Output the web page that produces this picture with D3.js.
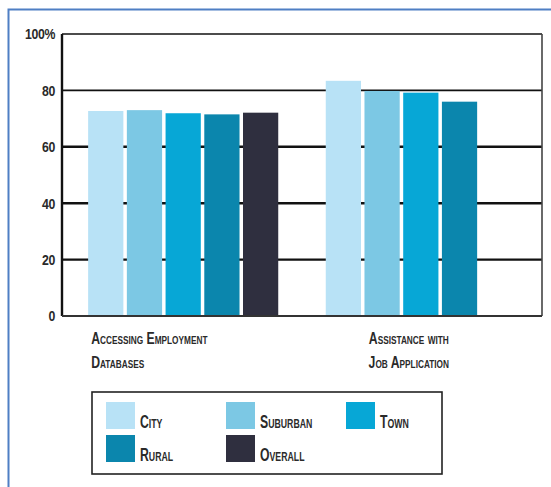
<!DOCTYPE html>
<html>
<head>
<meta charset="utf-8">
<script src="https://cdn.jsdelivr.net/npm/d3@7"></script>
<style>
  body { margin: 0; background: #fff; }
  text { font-family: "Liberation Sans", Arial, sans-serif; fill: #2a2a2a; }
</style>
</head>
<body>
<div id="chart-area"></div>
<script>
// data
var categories = ["Accessing Employment|Databases", "Assistance with|Job Application"];
var seriesNames = ["City", "Suburban", "Town", "Rural", "Overall"];
var seriesColors = ["#b8e2f6", "#7cc8e4", "#07a7d6", "#0b86ad", "#2f2f3f"];
var cityValues = [72.7, 83.4];
var suburbanValues = [73.0, 79.8];
var townValues = [71.9, 79.2];
var ruralValues = [71.5, 76.0];
var overallValues = [72.1, null];
var yTicks = [0, 20, 40, 60, 80, 100];

var seriesValues = [cityValues, suburbanValues, townValues, ruralValues, overallValues];

var margin = { top: 34, right: 9, bottom: 171, left: 62 };
var W = 551, H = 487;
var width = W - margin.left - margin.right;
var height = H - margin.top - margin.bottom;

// condensed label: text placed at (x,y) and squeezed horizontally
function narrowText(parent, x, y, str, size, k, anchor) {
    return parent.append("text")
        .attr("transform", "translate(" + x + "," + y + ") scale(" + k + ",1)")
        .attr("text-anchor", anchor || "start")
        .style("font-variant", "small-caps")
        .style("font-weight", "bold")
        .style("font-size", size + "px")
        .text(str);
}

var svg = d3.select('#chart-area')
    .append("svg")
        .attr("width", W)
        .attr("height", H);

// blue frame (top and left)
svg.append("path")
    .attr("d", "M8.5,487 L8.5,9.5 L551,9.5")
    .attr("fill", "none")
    .attr("stroke", "#4f7fc4")
    .attr("stroke-width", 2);

var g = svg.append("g")
    .attr("transform", "translate(" + margin.left + ", " + margin.top + ")");

var x0 = d3.scaleBand()
    .domain(categories)
    .range([0, width])
    .paddingInner(0.2)
    .paddingOuter(0.11);

var x1 = d3.scaleBand()
    .domain(seriesNames)
    .range([0, x0.bandwidth()])
    .paddingInner(0.09)
    .paddingOuter(0);

var y = d3.scaleLinear()
    .domain([0, 100])
    .range([height, 0]);

// gridlines
g.selectAll(".grid")
    .data(yTicks.filter(d => d > 0))
    .enter()
    .append("line")
        .attr("x1", 0)
        .attr("x2", width)
        .attr("y1", d => y(d))
        .attr("y2", d => y(d))
        .attr("stroke", "#111")
        .attr("stroke-width", d => d >= 80 ? 1.6 : 2.4);

// frame of the plot
g.append("line")
    .attr("x1", width).attr("x2", width)
    .attr("y1", 0).attr("y2", height)
    .attr("stroke", "#444").attr("stroke-width", 1.6);

// bars
var groups = g.selectAll(".cat")
    .data(categories)
    .enter()
    .append("g")
        .attr("transform", d => "translate(" + x0(d) + ",0)");

groups.selectAll("rect")
    .data((d, i) => seriesNames.map((s, j) => ({ s: s, v: seriesValues[j][i], c: seriesColors[j] }))
        .filter(e => e.v != null))
    .enter()
    .append("rect")
        .attr("x", d => x1(d.s))
        .attr("y", d => y(d.v))
        .attr("width", x1.bandwidth())
        .attr("height", d => height - y(d.v))
        .style("fill", d => d.c);

// left axis and baseline
g.append("line")
    .attr("x1", 0).attr("x2", 0)
    .attr("y1", 0).attr("y2", height)
    .attr("stroke", "#111").attr("stroke-width", 2.4);
g.append("line")
    .attr("x1", 0).attr("x2", width)
    .attr("y1", height).attr("y2", height)
    .attr("stroke", "#333").attr("stroke-width", 2);

var yAxisCall = d3.axisLeft(y)
    .tickValues(yTicks)
    .tickSize(0)
    .tickPadding(0)
    .tickFormat(d => d === 100 ? d + '%' : d);
var yAxis = g.append("g")
    .attr("class", "y-axis")
    .call(yAxisCall);
yAxis.select(".domain").remove();
yAxis.selectAll("text")
    .attr("x", 0)
    .attr("transform", "translate(-7,0) scale(0.82,1)")
    .style("font-family", "'Liberation Sans', Arial, sans-serif")
    .style("font-size", "15px")
    .style("font-weight", "bold")
    .style("letter-spacing", "-0.4px")
    .attr("fill", "#333");

// category labels
categories.forEach((c, i) => {
    var lines = c.split("|");
    var xx = i === 0 ? x0(c) + 3 : x0(c) + x0.bandwidth() / 2 - 12;
    lines.forEach((l, k) => {
        narrowText(g, xx, height + 28 + k * 24, l, 17, 0.72, i === 0 ? "start" : "middle");
    });
});

// legend
var legend = svg.append("g")
    .attr("transform", "translate(92,392)");
legend.append("rect")
    .attr("width", 350)
    .attr("height", 82)
    .attr("fill", "none")
    .attr("stroke", "#222")
    .attr("stroke-width", 1.6);

var items = legend.selectAll(".item")
    .data(seriesNames)
    .enter()
    .append("g")
        .attr("transform", (d, i) => "translate(" + (14 + (i % 3) * 120) + "," + (10 + Math.floor(i / 3) * 33) + ")");
items.append("rect")
    .attr("width", 29)
    .attr("height", 27)
    .style("fill", (d, i) => seriesColors[i]);
items.each(function(d) {
    narrowText(d3.select(this), 34, 26, d, 18, 0.68);
});
</script>
</body>
</html>
